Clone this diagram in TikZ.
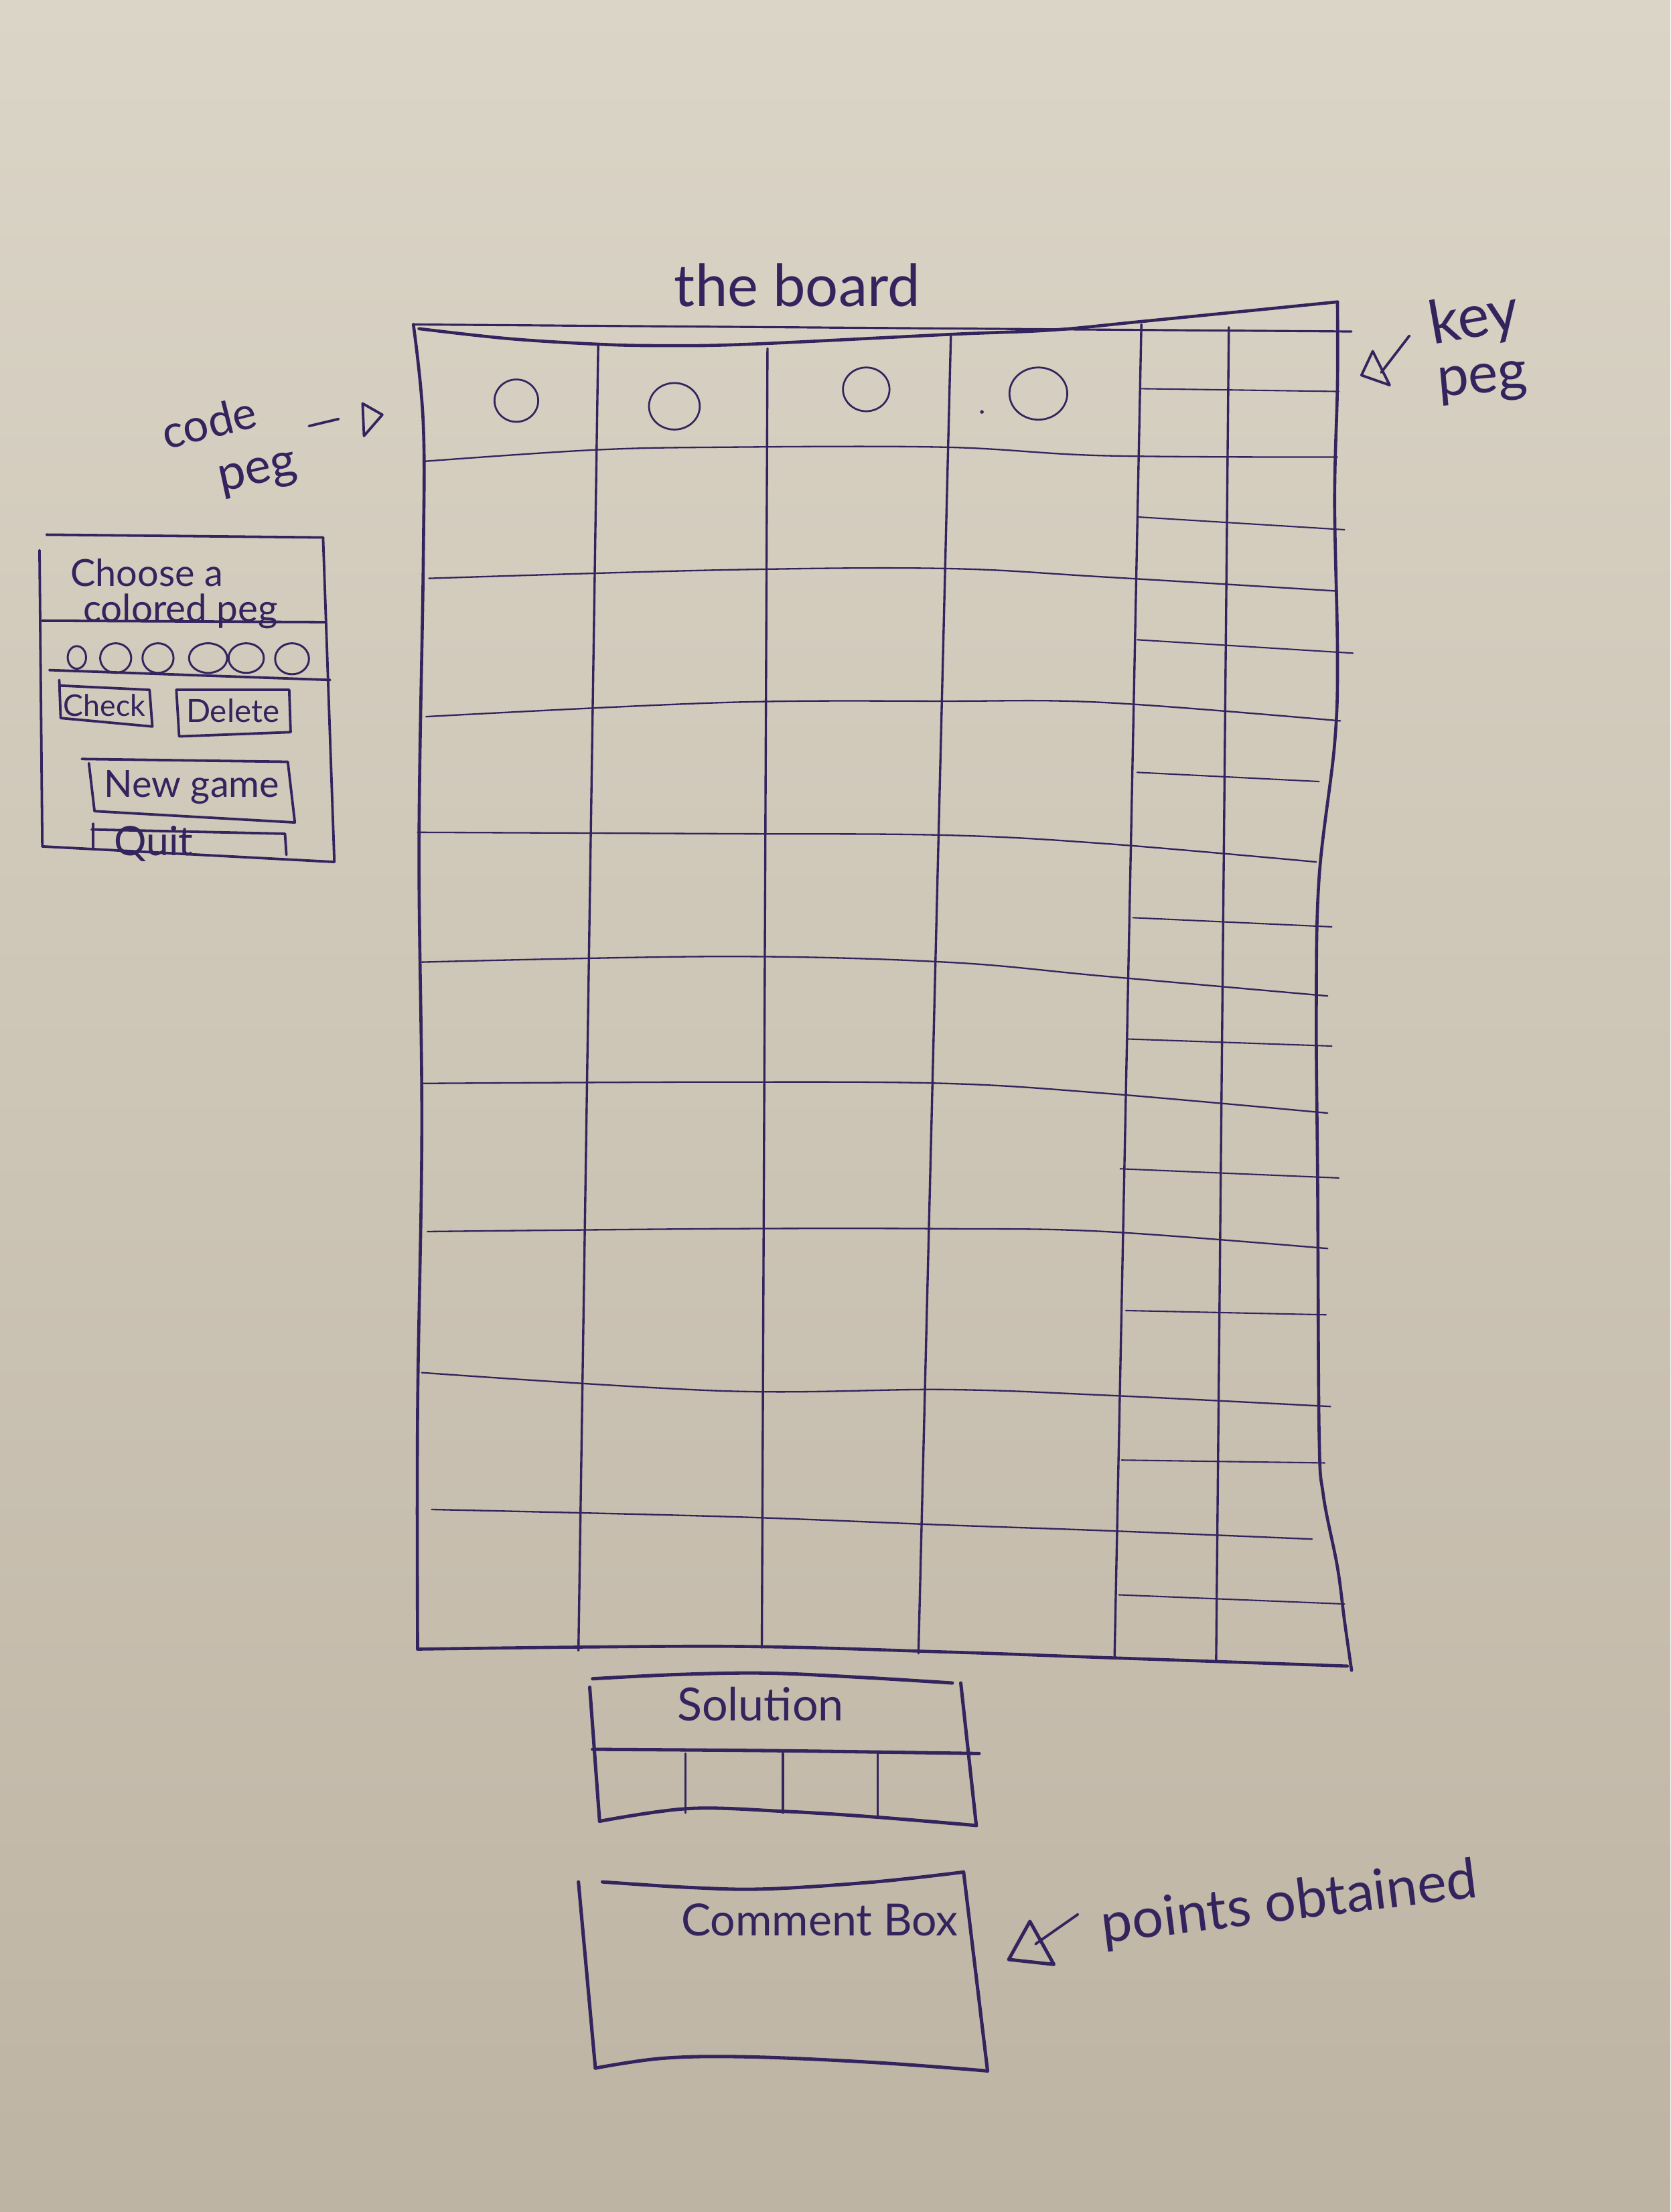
\documentclass[tikz,border=0pt]{standalone}
\usepackage{fontspec}
\setmainfont{Lato}
\usetikzlibrary{shapes.geometric}
\definecolor{ink}{HTML}{33245E}
\definecolor{paperTop}{HTML}{DBD5C7}
\definecolor{paperBot}{HTML}{BEB4A4}
% hand lettering set to a given width
\newcommand{\hw}[2]{\resizebox{#1pt}{!}{#2}}

\begin{document}
\begin{tikzpicture}[x=1pt,y=-1pt,
  pen/.style={draw=ink, line cap=round, line join=round},
  frame/.style={pen, line width=2.2pt},
  colline/.style={pen, line width=1.6pt},
  rowline/.style={pen, line width=1.1pt},
  keyline/.style={pen, line width=1pt},
  panel/.style={pen, line width=1.8pt},
  boxline/.style={pen, line width=2.4pt},
  pegshape/.style={pen, ellipse, line width=1.3pt, inner sep=0pt},
  label/.style={text=ink, inner sep=0pt, anchor=center},
]
% paper
\useasboundingbox (0,0) rectangle (1184,1568);
\shade[top color=paperTop, bottom color=paperBot] (0,0) rectangle (1184,1568);

% ---------- title ----------
\node[label] (title) at (565,202) {\hw{174}{the board}};

% ---------- board frame ----------
\draw[pen, line width=1.5pt] (293,230) -- (958,235);
\draw[frame] plot[smooth, tension=0.6] coordinates {(297,233) (360,240) (424,244) (470,245) (531,244) (674,237) (745,234) (808,228) (948,214)};
\draw[frame] plot[smooth, tension=0.6] coordinates {(293,230) (300,300) (300,400) (297,600) (299,800) (296,1000) (296,1169)};
\draw[frame] plot[smooth, tension=0.6] coordinates {(948,214) (948,272) (946,355) (948,463) (946,527) (935,622) (933,717) (934,844) (935,1016) (938,1060) (948,1111) (953,1149) (958,1184)};
\draw[frame] plot[smooth, tension=0.6] coordinates {(296,1169) (513,1167) (670,1171) (783,1175) (955,1181)};

% columns
\draw[colline] (424,245) -- (410,1170);
\draw[colline] (544,247) -- (540,1168);
\draw[colline] (674,237) -- (651,1172);
\draw[colline] (809,230) -- (790,1175);
\draw[colline] (871,232) -- (862,1178);

% rows
\draw[rowline] plot[smooth, tension=0.6] coordinates {(301,327) (420,319) (513,317) (670,317) (783,323) (948,324)};
\draw[rowline] plot[smooth, tension=0.6] coordinates {(304,410) (513,404) (670,403) (783,409) (948,419)};
\draw[rowline] plot[smooth, tension=0.6] coordinates {(302,508) (513,498) (670,497) (783,498) (950,511)};
\draw[rowline] plot[smooth, tension=0.6] coordinates {(296,590) (513,591) (670,592) (783,598) (933,611)};
\draw[rowline] plot[smooth, tension=0.6] coordinates {(299,682) (513,678) (670,682) (783,692) (941,706)};
\draw[rowline] plot[smooth, tension=0.6] coordinates {(299,768) (513,767) (670,768) (783,775) (941,789)};
\draw[rowline] plot[smooth, tension=0.6] coordinates {(303,873) (513,871) (670,871) (783,873) (941,885)};
\draw[rowline] plot[smooth, tension=0.6] coordinates {(299,973) (513,986) (670,985) (783,989) (943,997)};
\draw[rowline] plot[smooth, tension=0.6] coordinates {(306,1070) (513,1075) (670,1081) (783,1085) (930,1091)};

% key peg subdivisions
\draw[keyline] (808,275.5) -- (949,277.5);
\draw[keyline] (807,366.5) -- (953,375.5);
\draw[keyline] (806,453.5) -- (959,463);
\draw[keyline] (806,547.5) -- (935,554);
\draw[keyline] (803,650.5) -- (944,657);
\draw[keyline] (799,736.5) -- (944,741.5);
\draw[keyline] (794,828.5) -- (949,835);
\draw[keyline] (798,929) -- (940,932);
\draw[keyline] (795,1035) -- (939,1037);
\draw[keyline] (793,1130.5) -- (953,1137);

% code pegs of the first row
\node[pegshape, minimum width=31, minimum height=30] (peg1) at (366,284) {};
\node[pegshape, minimum width=36, minimum height=33] (peg2) at (478,288) {};
\node[pegshape, minimum width=33, minimum height=31] (peg3) at (614,276) {};
\node[pegshape, minimum width=41, minimum height=37] (peg4) at (736,279) {};
\fill[ink] (696,292) circle (1.3);

% ---------- code peg label ----------
\node[label, rotate=14] (codeword) at (148,299) {\hw{68}{code}};
\node[label, rotate=12] (pegword) at (183,337) {\hw{56}{peg}};
\coordinate (cpA) at (219,302);
\coordinate (cpB) at (240,297);
\draw[panel] (cpA) -- (cpB);
\draw[panel] (257,286) -- (258,309) -- (271,294) -- cycle;

% ---------- key peg label ----------
\node[label, rotate=10] (keyword) at (1045,227) {\hw{64}{key}};
\node[label, rotate=5] (keypeg) at (1051,272) {\hw{64}{peg}};
\coordinate (kpA) at (999,238);
\coordinate (kpB) at (979,264);
\draw[panel] (kpA) -- (kpB);
\draw[panel] (973,249) -- (965,266) -- (985,273) -- cycle;

% ---------- control panel ----------
\draw[panel] (33,379) -- (229,381);
\draw[panel] (28,390) -- (30,600);
\draw[panel] (229,381) -- (237,611);
\draw[panel] (30,600) -- (237,611);
\node[label] (choose) at (104,406) {\hw{108}{Choose a}};
\node[label, anchor=base] (colored) at (128,441) {\hw{138}{colored peg}};
\draw[panel] (30,440) -- (231,441);
\draw[pen, line width=1.4pt] (54.5,466) ellipse [x radius=6.5, y radius=8];
\draw[pen, line width=1.4pt] (82,466.5) ellipse [x radius=11, y radius=10.5];
\draw[pen, line width=1.4pt] (112,466.5) ellipse [x radius=11, y radius=10.5];
\draw[pen, line width=1.4pt] (147.5,466.5) ellipse [x radius=13.5, y radius=10.5];
\draw[pen, line width=1.4pt] (174.5,466.5) ellipse [x radius=12.5, y radius=10.5];
\draw[pen, line width=1.4pt] (207,467) ellipse [x radius=12, y radius=11];
\draw[panel] (35,475) -- (234,482);
% buttons
\draw[panel] (42,482) -- (43,509) -- (108,515) -- (106,489) -- (43,486);
\node[label] (check) at (74,500) {\hw{58}{Check}};
\draw[panel] (125,489) -- (205,489) -- (206,519) -- (127,522) -- cycle;
\node[label] (delete) at (165,504) {\hw{66}{Delete}};
\draw[panel] (58,538) -- (204,540) -- (209,583) -- (67,575) -- (63,541);
\node[label] (newgame) at (136,558) {\hw{124}{New game}};
\draw[panel] (66,602) -- (66,584);
\draw[panel] (65,588) -- (202,591) -- (203,606);
\node[label] (quit) at (109,598) {\hw{56}{Quit}};

% ---------- solution ----------
\draw[boxline] plot[smooth, tension=0.6] coordinates {(420,1190) (480,1187) (543,1186) (610,1189) (675,1193)};
\draw[boxline] (418,1196) -- (425,1291);
\draw[boxline] (681,1193) -- (692,1294);
\draw[boxline] plot[smooth, tension=0.6] coordinates {(425,1291) (488,1282) (556,1284) (620,1288) (692,1294)};
\draw[boxline] plot[smooth, tension=0.6] coordinates {(420,1240) (550,1241) (694,1243)};
\draw[colline] (486,1243) -- (486,1285);
\draw[colline] (555,1243) -- (555,1285);
\draw[colline] (622,1243) -- (622,1287);
\node[label] (solution) at (539,1208) {\hw{118}{Solution}};

% ---------- comment box ----------
\draw[boxline] plot[smooth, tension=0.6] coordinates {(427,1334) (490,1338) (543,1339) (620,1334) (683,1327)};
\draw[boxline] (410,1334) -- (422,1466);
\draw[boxline] (683,1327) -- (700,1468);
\draw[boxline] plot[smooth, tension=0.6] coordinates {(422,1466) (470,1459) (530,1458) (620,1462) (700,1468)};
\node[label] (comment) at (581,1361) {\hw{196}{Comment Box}};

% ---------- points obtained ----------
\node[label, rotate=7] (points) at (914,1350) {\hw{268}{points obtained}};
\coordinate (ptA) at (764,1357);
\coordinate (ptB) at (734,1378);
\draw[panel] (ptA) -- (ptB);
\draw[boxline] (730,1362) -- (715,1389) -- (747,1392.5) -- cycle;
\end{tikzpicture}
\end{document}
